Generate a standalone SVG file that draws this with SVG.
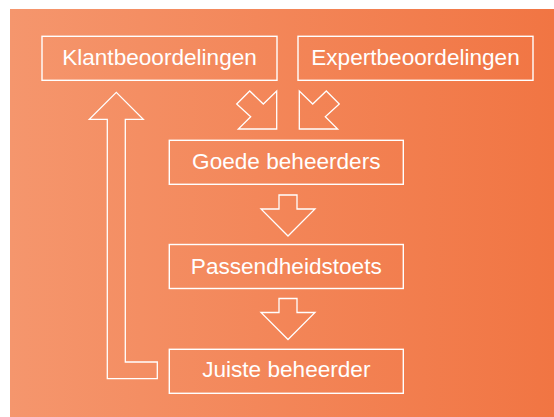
<svg xmlns="http://www.w3.org/2000/svg" width="554" height="417" viewBox="0 0 554 417">
<defs>
<linearGradient id="bg" x1="0" y1="0" x2="1" y2="0">
<stop offset="0" stop-color="#F5966D"/>
<stop offset="1" stop-color="#F17543"/>
</linearGradient>
<style>
.box{fill:none;stroke:#fff;stroke-width:1.4}
.arr{fill:none;stroke:#fff;stroke-width:1.3;stroke-linejoin:miter}
.lbl{font-family:"Liberation Sans",Arial,sans-serif;font-size:22.6px;fill:#fff;text-anchor:middle}
</style>
</defs>
<rect x="0" y="0" width="554" height="417" fill="#fff"/>
<rect x="10" y="9" width="544" height="408" fill="url(#bg)"/>
<g id="connectors">
<polygon class="arr" points="276.7,129 276.7,91 263.3,104 249.7,91 236.7,104 250.7,116.7 238.3,129"/>
<polygon class="arr" points="299.3,129 299.3,91 312.7,104 326.3,91 339.3,104 325.3,116.7 337.7,129"/>
<polygon class="arr" points="279,195 297,195 297,209 315,209 288,236 261,209 279,209"/>
<polygon class="arr" points="279,298.5 297,298.5 297,312.5 315,312.5 288,339.5 261,312.5 279,312.5"/>
<polygon class="arr" points="107.3,378.7 157.3,378.7 157.3,362 125.3,362 125.3,119.3 143.3,119.3 116.3,92.3 89.3,119.3 107.3,119.3"/>
</g>
<g id="klant">
<rect class="box" x="42" y="36.3" width="235" height="44"/>
<text class="lbl" x="159.5" y="64.5">Klantbeoordelingen</text>
</g>
<g id="expert">
<rect class="box" x="298" y="36.3" width="235" height="44"/>
<text class="lbl" x="415.5" y="64.5">Expertbeoordelingen</text>
</g>
<g id="goede">
<rect class="box" x="169.3" y="140.3" width="234" height="44"/>
<text class="lbl" x="286.3" y="168.5">Goede beheerders</text>
</g>
<g id="passend">
<rect class="box" x="169.3" y="244.5" width="234" height="44"/>
<text class="lbl" x="286.3" y="273.5">Passendheidstoets</text>
</g>
<g id="juiste">
<rect class="box" x="169.3" y="349.3" width="234" height="44"/>
<text class="lbl" x="286.3" y="377">Juiste beheerder</text>
</g>
</svg>
